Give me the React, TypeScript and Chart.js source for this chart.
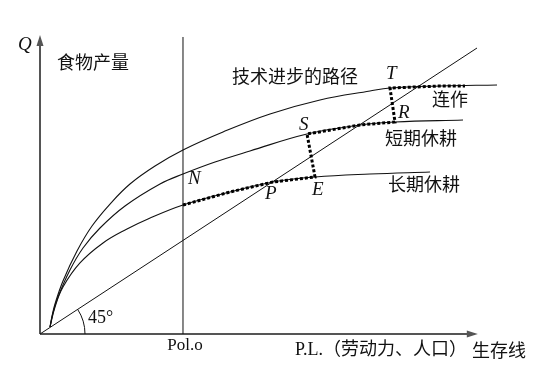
import React, { useEffect, useRef } from "react";
import { Chart, registerables } from "chart.js";

Chart.register(...registerables);

// Data units: x = labour / population (P.L.), y = food output (Q); the 45° line is y = x.
const axisXData = [{ x: 0, y: 0 }, { x: 99.5, y: 0 }];
const axisYData = [{ x: 0, y: 0 }, { x: 0, y: 103.5 }];
const line45Data = [{ x: 0, y: 0 }, { x: 100, y: 100 }];
const polOX = 32.72;
const polOTop = 103.85;

// 连作 (top curve)
const continuousX = [2.29, 2.75, 3.43, 5.26, 8.47, 11.9, 16.02, 20.59, 26.32, 32.72, 41.88, 52.63, 64.07, 75.51, 80.09, 91.53, 104.58];
const continuousY = [2.45, 6.29, 10.49, 18.53, 29.02, 37.76, 45.45, 52.45, 58.74, 64.34, 70.63, 76.92, 81.82, 84.97, 86.01, 86.71, 87.06];
// 短期休耕 (middle curve)
const shortFallowX = [2.29, 2.97, 4.12, 6.86, 9.84, 13.73, 19.45, 27.46, 32.72, 40.05, 48.05, 61.1, 73.23, 81.24, 96.8];
const shortFallowY = [2.45, 7.34, 12.94, 22.38, 30.07, 37.06, 44.76, 52.45, 55.94, 60.14, 63.99, 69.93, 73.08, 74.13, 74.83];
// 长期休耕 (bottom curve)
const longFallowX = [2.29, 3.43, 5.26, 9.15, 14.42, 19.91, 24.71, 32.72, 43.48, 53.32, 62.93, 75.51, 89.24];
const longFallowY = [2.45, 9.44, 16.43, 24.83, 31.82, 36.71, 40.21, 45.1, 49.65, 53.15, 54.9, 55.94, 56.64];
// 技术进步的路径 (dotted path N-P-E-S-R-T)
const pathX = [32.72, 43.48, 53.32, 62.93, 61.1, 73.23, 81.24, 80.09, 91.53, 97.25];
const pathY = [45.1, 49.65, 53.15, 54.9, 69.93, 73.08, 74.13, 86.01, 86.71, 86.71];

// Text labels and their anchor points (data units)
const labelTexts = ["Q", "食物产量", "技术进步的路径", "N", "P", "E", "S", "T", "R", "连作", "短期休耕", "长期休耕", "45°", "Pol.o", "P.L.（劳动力、人口）", "生存线"];
const labelX = [-5.03, 3.89, 43.94, 33.87, 51.49, 62.24, 59.27, 79.18, 81.92, 89.7, 78.95, 79.63, 10.98, 33.18, 58.35, 98.86];
const labelY = [101.05, 95.1, 90.21, 54.2, 48.95, 50.35, 73.08, 90.91, 77.27, 82.17, 68.53, 52.45, 5.59, -4.2, -5.59, -5.59];

const SERIF = '"Liberation Serif", "Times New Roman", "Noto Sans CJK SC", serif';
const CJK = '"Noto Sans CJK SC", sans-serif';
const labelFonts = [
  `italic 19px ${SERIF}`,
  `18px ${CJK}`,
  `18px ${CJK}`,
  `italic 19px ${SERIF}`,
  `italic 19px ${SERIF}`,
  `italic 19px ${SERIF}`,
  `italic 19px ${SERIF}`,
  `italic 19px ${SERIF}`,
  `italic 19px ${SERIF}`,
  `18px ${CJK}`,
  `18px ${CJK}`,
  `18px ${CJK}`,
  `18px ${SERIF}`,
  `17px ${SERIF}`,
  `18px ${SERIF}`,
  `18px ${CJK}`,
];
const labelAlign: CanvasTextAlign[] = ["left", "left", "left", "left", "left", "left", "left", "left", "left", "left", "left", "left", "left", "center", "left", "left"];

const zip = (xs: number[], ys: number[]) => xs.map((x, i) => ({ x, y: ys[i] }));

const AXIS_COLOR = "#555555";
const INK = "#111111";

const overlayPlugin = {
  id: "overlay",
  afterDatasetsDraw(chart: any) {
    const { ctx } = chart;
    const xs = chart.scales.x;
    const ys = chart.scales.y;
    ctx.save();
    // arrow heads
    ctx.fillStyle = AXIS_COLOR;
    const xEndX = xs.getPixelForValue(axisXData[1].x);
    const xEndY = ys.getPixelForValue(axisXData[1].y);
    ctx.beginPath();
    ctx.moveTo(xEndX + 3, xEndY);
    ctx.lineTo(xEndX - 8, xEndY - 3.5);
    ctx.lineTo(xEndX - 8, xEndY + 3.5);
    ctx.closePath();
    ctx.fill();
    const yEndX = xs.getPixelForValue(axisYData[1].x);
    const yEndY = ys.getPixelForValue(axisYData[1].y);
    ctx.beginPath();
    ctx.moveTo(yEndX, yEndY - 3);
    ctx.lineTo(yEndX - 3.5, yEndY + 8);
    ctx.lineTo(yEndX + 3.5, yEndY + 8);
    ctx.closePath();
    ctx.fill();
    // 45° arc
    const ox = xs.getPixelForValue(0);
    const oy = ys.getPixelForValue(0);
    const ex = xs.getPixelForValue(line45Data[1].x);
    const ey = ys.getPixelForValue(line45Data[1].y);
    const ang = Math.atan2(oy - ey, ex - ox);
    ctx.strokeStyle = INK;
    ctx.lineWidth = 1;
    ctx.beginPath();
    ctx.arc(ox, oy, 45, -ang, 0);
    ctx.stroke();
    // labels
    ctx.fillStyle = INK;
    ctx.textBaseline = "middle";
    labelTexts.forEach((t, i) => {
      ctx.font = labelFonts[i];
      ctx.textAlign = labelAlign[i];
      ctx.fillText(t, xs.getPixelForValue(labelX[i]), ys.getPixelForValue(labelY[i]));
    });
    ctx.restore();
  },
};

export default function App() {
  const ref = useRef<HTMLCanvasElement | null>(null);
  useEffect(() => {
    if (!ref.current) return;
    const curve = (data: any[]) => ({
      data,
      showLine: true,
      borderColor: INK,
      borderWidth: 1.1,
      pointRadius: 0,
      tension: 0.4,
      fill: false,
      order: 2,
    });
    const straight = (data: any[], color: string, width: number) => ({
      data,
      showLine: true,
      borderColor: color,
      borderWidth: width,
      pointRadius: 0,
      tension: 0,
      fill: false,
      order: 3,
    });
    const chart = new Chart(ref.current, {
      type: "scatter",
      data: {
        datasets: [
          {
            data: zip(pathX, pathY),
            showLine: true,
            borderColor: "#000000",
            borderWidth: 3,
            borderDash: [3, 2],
            pointRadius: 0,
            tension: 0,
            fill: false,
            order: 0,
          },
          curve(zip(continuousX, continuousY)),
          curve(zip(shortFallowX, shortFallowY)),
          curve(zip(longFallowX, longFallowY)),
          straight(line45Data, INK, 1),
          straight([{ x: polOX, y: 0 }, { x: polOX, y: polOTop }], INK, 1),
          straight(axisXData, AXIS_COLOR, 2),
          straight(axisYData, AXIS_COLOR, 2),
        ] as any,
      },
      options: {
        animation: false,
        responsive: false,
        events: [],
        layout: { padding: 0 },
        plugins: { legend: { display: false }, tooltip: { enabled: false }, title: { display: false } },
        scales: {
          x: { type: "linear", display: false, min: -40 / 4.37, max: 501 / 4.37 },
          y: { type: "linear", display: false, min: -34 / 2.86, max: 334 / 2.86 },
        },
      },
      plugins: [overlayPlugin],
    });
    return () => chart.destroy();
  }, []);
  return (
    <div style={{ position: "fixed", left: 0, top: 0, width: 541, height: 368, background: "#fff" }}>
      <canvas ref={ref} width={541} height={368} />
    </div>
  );
}
